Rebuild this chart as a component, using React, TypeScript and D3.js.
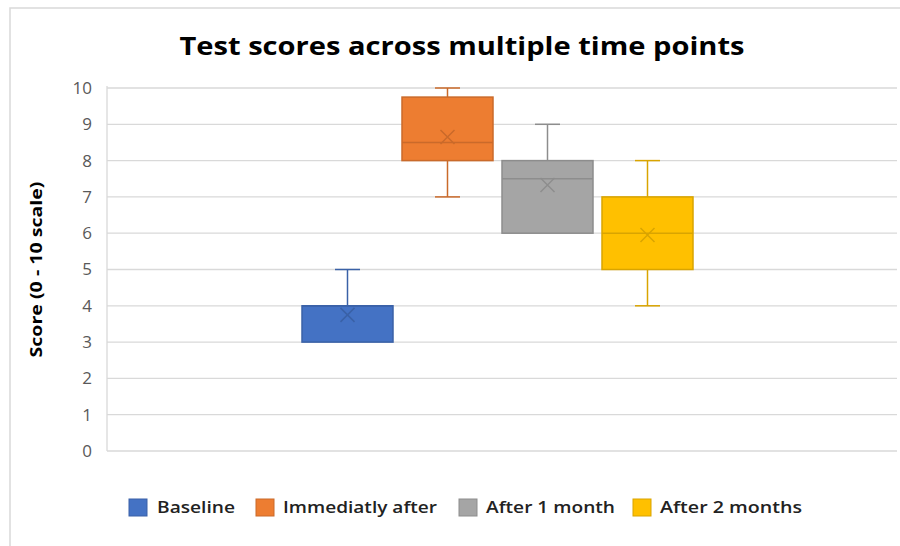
import React from "react";
import * as d3 from "d3";

const series = ["Baseline", "Immediatly after", "After 1 month", "After 2 months"];
const colors = ["#4472C4", "#ED7D31", "#A5A5A5", "#FFC000"];
const mins = [3, 7, 6, 4];
const q1s = [3, 8, 6, 5];
const medians = [4, 8.5, 7.5, 6];
const q3s = [4, 9.75, 8, 7];
const maxs = [5, 10, 9, 8];
const means = [3.75, 8.65, 7.33, 5.95];
const yTicks = [0, 1, 2, 3, 4, 5, 6, 7, 8, 9, 10];

const W = 900, H = 546;
const plot = { left: 107, right: 897, top: 88, bottom: 451 };
const font = "'Open Sans', 'DejaVu Sans', sans-serif";

export default function App() {
  const y = d3.scaleLinear().domain([0, 10]).range([plot.bottom, plot.top]);
  const x = d3.scaleBand<string>().domain(series).range([302, 693]).paddingInner(0.09).paddingOuter(0.0);
  const bw = x.bandwidth();
  const legendText = [157, 283, 486, 660];
  const legendSw = [129, 256, 459, 633];
  const legendW = [78, 154, 129, 142];
  return (
    <svg width={W} height={H} style={{ position: "absolute", left: 0, top: 0, background: "#fff" }}>
      <rect x={10} y={8} width={W} height={H} fill="#fff" stroke="#D9D9D9" strokeWidth={1.5} />
      <text x={462} y={55} textAnchor="middle" fontFamily={font} fontWeight={700} fontSize={25} fill="#000" textLength={565} lengthAdjust="spacingAndGlyphs">
        Test scores across multiple time points
      </text>
      {yTicks.map((t) => (
        <g key={t}>
          <line x1={plot.left} x2={plot.right} y1={y(t)} y2={y(t)} stroke="#D9D9D9" strokeWidth={1.3} />
          <text x={92} y={y(t)} dy="0.35em" textAnchor="end" fontFamily={font} fontSize={17} fill="#595959">{t}</text>
        </g>
      ))}
      <line x1={plot.left} x2={plot.left} y1={plot.top - 2} y2={plot.bottom} stroke="#D9D9D9" strokeWidth={1.3} />
      <text transform={`translate(42,${(plot.top + plot.bottom) / 2}) rotate(-90)`} textAnchor="middle" fontFamily={font} fontWeight={700} fontSize={15.5} fill="#000" textLength={176} lengthAdjust="spacingAndGlyphs">
        Score (0 - 10 scale)
      </text>
      {series.map((s, i) => {
        const cx = (x(s) as number) + bw / 2;
        const stroke = d3.color(colors[i])!.darker(0.45).formatHex();
        const cap = 12.5;
        const m = 7;
        return (
          <g key={s}>
            <line x1={cx} x2={cx} y1={y(maxs[i])} y2={y(q3s[i])} stroke={stroke} strokeWidth={1.5} />
            <line x1={cx} x2={cx} y1={y(q1s[i])} y2={y(mins[i])} stroke={stroke} strokeWidth={1.5} />
            {maxs[i] > q3s[i] && <line x1={cx - cap} x2={cx + cap} y1={y(maxs[i])} y2={y(maxs[i])} stroke={stroke} strokeWidth={1.5} />}
            {mins[i] < q1s[i] && <line x1={cx - cap} x2={cx + cap} y1={y(mins[i])} y2={y(mins[i])} stroke={stroke} strokeWidth={1.5} />}
            <rect x={x(s)} y={y(q3s[i])} width={bw} height={y(q1s[i]) - y(q3s[i])} fill={colors[i]} stroke={stroke} strokeWidth={1.5} />
            <line x1={x(s)} x2={(x(s) as number) + bw} y1={y(medians[i])} y2={y(medians[i])} stroke={stroke} strokeWidth={1.5} />
            <path d={`M${cx - m},${y(means[i]) - m}L${cx + m},${y(means[i]) + m}M${cx - m},${y(means[i]) + m}L${cx + m},${y(means[i]) - m}`} stroke={stroke} strokeWidth={1.5} fill="none" />
          </g>
        );
      })}
      {series.map((s, i) => (
        <g key={"lg" + s}>
          <rect x={legendSw[i]} y={499} width={18} height={17} fill={colors[i]} stroke={d3.color(colors[i])!.darker(0.45).formatHex()} strokeWidth={1} />
          <text x={legendText[i]} y={507.5} dy="0.35em" fontFamily={font} fontWeight={600} fontSize={17} fill="#222" textLength={legendW[i]} lengthAdjust="spacingAndGlyphs">{s}</text>
        </g>
      ))}
    </svg>
  );
}
